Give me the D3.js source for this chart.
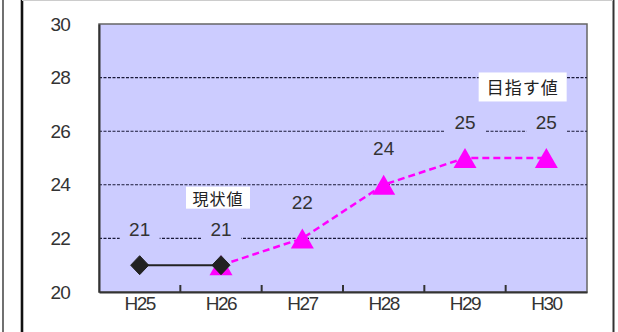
<!DOCTYPE html>
<html><head><meta charset="utf-8">
<script src="https://cdn.jsdelivr.net/npm/d3@7"></script>
<style>
html,body{margin:0;padding:0;background:#fff;}
svg{display:block;}
</style></head>
<body>
<svg id="chart" width="618" height="332"></svg>
<script>
const categories = ["H25","H26","H27","H28","H29","H30"];
const currentValues = [21, 21, null, null, null, null];
const targetValues = [null, 21, 22, 24, 25, 25];
const labelValues = [21, 21, 22, 24, 25, 25];
const yTicks = [20, 22, 24, 26, 28, 30];

const svg = d3.select("#chart");
const W = 618, H = 332;
const m = {left: 99, right: 587, top: 24, bottom: 292};

// outer frame lines
svg.append("line").attr("x1",3).attr("x2",3).attr("y1",0).attr("y2",H).attr("stroke","#111").attr("stroke-width",1.2);
svg.append("line").attr("x1",22).attr("x2",22).attr("y1",0).attr("y2",H).attr("stroke","#111").attr("stroke-width",2.6);
svg.append("line").attr("x1",613.5).attr("x2",613.5).attr("y1",0).attr("y2",H).attr("stroke","#333").attr("stroke-width",2);
svg.append("line").attr("x1",22).attr("x2",613).attr("y1",0.5).attr("y2",0.5).attr("stroke","#ccc").attr("stroke-width",1);

const x = d3.scaleBand().domain(categories).range([m.left, m.right]).padding(0);
const y = d3.scaleLinear().domain([20, 30]).range([m.bottom, m.top]);
const cx = c => x(c) + x.bandwidth()/2;

// plot background
svg.append("rect").attr("x", m.left).attr("y", m.top)
  .attr("width", m.right - m.left).attr("height", m.bottom - m.top)
  .attr("fill", "#ccccff").attr("stroke", "#666").attr("stroke-width", 1.5);

// gridlines
svg.append("g").selectAll("line").data(yTicks.filter(t => t > 20 && t < 30)).join("line")
  .attr("x1", m.left).attr("x2", m.right)
  .attr("y1", d => y(d)).attr("y2", d => y(d))
  .attr("stroke", "#1a1a3a").attr("stroke-width", 1.1).attr("stroke-dasharray", "3,1.5");

// value label background boxes (hide gridlines)
const labData = categories.map((c, i) => ({c, v: labelValues[i]}));
svg.append("g").selectAll("rect").data(labData).join("rect")
  .attr("x", d => cx(d.c) - 20).attr("y", d => y(d.v) - 36 - 17)
  .attr("width", 40).attr("height", 34).attr("fill", "#ccccff");

// axes
const xAxis = d3.axisBottom(x).tickSize(0).tickPadding(8);
const gx = svg.append("g").attr("transform", `translate(0,${m.bottom})`).call(xAxis);
gx.select(".domain").attr("stroke", "#333").attr("stroke-width", 2);
gx.selectAll("text").attr("font-family", "Liberation Sans, Arial, sans-serif")
  .attr("font-size", 19).attr("fill", "#333").attr("letter-spacing", -1.5).attr("dy", "0.5em");
// inner category boundary ticks
svg.append("g").selectAll("line").data(categories.slice(1)).join("line")
  .attr("x1", d => x(d)).attr("x2", d => x(d))
  .attr("y1", m.bottom).attr("y2", m.bottom - 7)
  .attr("stroke", "#333").attr("stroke-width", 2);

const yAxis = d3.axisLeft(y).tickValues(yTicks).tickSize(0).tickPadding(29);
const gy = svg.append("g").attr("transform", `translate(${m.left},0)`).call(yAxis);
gy.select(".domain").attr("stroke", "#333").attr("stroke-width", 2);
gy.selectAll("text").attr("font-family", "Liberation Sans, Arial, sans-serif")
  .attr("font-size", 19).attr("fill", "#333").attr("letter-spacing", -0.8);

// lines
const curPts = categories.map((c, i) => ({c, v: currentValues[i]})).filter(d => d.v != null);
const tgtPts = categories.map((c, i) => ({c, v: targetValues[i]})).filter(d => d.v != null);
const line = d3.line().x(d => cx(d.c)).y(d => y(d.v));

svg.append("path").datum(tgtPts).attr("d", line).attr("fill", "none")
  .attr("stroke", "#ff00ff").attr("stroke-width", 2.5).attr("stroke-dasharray", "7,4");
svg.append("g").selectAll("path").data(tgtPts).join("path")
  .attr("d", d => { const px = cx(d.c), py = y(d.v);
    return `M${px},${py-10}L${px+11.5},${py+10}L${px-11.5},${py+10}Z`; })
  .attr("fill", "#ff00ff");

svg.append("path").datum(curPts).attr("d", line).attr("fill", "none")
  .attr("stroke", "#222").attr("stroke-width", 2);
svg.append("g").selectAll("path").data(curPts).join("path")
  .attr("d", d => { const px = cx(d.c), py = y(d.v);
    return `M${px},${py-9.5}L${px+9},${py}L${px},${py+9.5}L${px-9},${py}Z`; })
  .attr("fill", "#222").attr("stroke", "#222");

// value labels
svg.append("g").selectAll("text").data(labData).join("text")
  .attr("x", d => cx(d.c)).attr("y", d => y(d.v) - 36)
  .attr("text-anchor", "middle").attr("dominant-baseline", "central")
  .attr("font-family", "Liberation Sans, Arial, sans-serif").attr("font-size", 19)
  .attr("fill", "#333").text(d => d.v);

// annotation boxes
function note(text, cxp, cyp, w, h, fs){
  svg.append("rect").attr("x", cxp - w/2).attr("y", cyp - h/2).attr("width", w).attr("height", h).attr("fill", "#fff");
  svg.append("text").attr("x", cxp).attr("y", cyp).attr("text-anchor", "middle")
    .attr("dominant-baseline", "central").attr("font-family", "Noto Sans CJK JP, sans-serif")
    .attr("font-size", fs).attr("fill", "#222").attr("letter-spacing", 1).text(text);
}
note("現状値", cx("H26") - 3, y(23.52), 64, 22, 16);
note("目指す値", (cx("H29") + cx("H30"))/2 + 17, y(27.65), 88, 29, 17);
</script>
</body></html>
